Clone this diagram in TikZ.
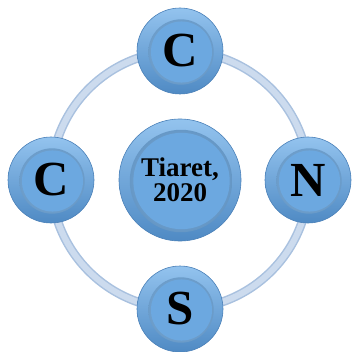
\documentclass[tikz,border=0pt]{standalone}
\usepackage{fontspec}
\setmainfont{Liberation Serif}
\usepackage{tikz}
\usepackage{xcolor}
\usetikzlibrary{positioning,calc}
\definecolor{ringedge}{HTML}{A9C1DF}
\definecolor{ringfill}{HTML}{CCDBEE}
\definecolor{ballrim}{HTML}{4A80B8}
\definecolor{balldark}{HTML}{4F8AC4}
\definecolor{balllight}{HTML}{93C3EE}
\definecolor{ballface}{HTML}{6CA8E0}

\begin{document}
\begin{tikzpicture}[x=1pt, y=-1pt,
    ball/.style 2 args={circle, draw=ballrim, line width=0.6pt, minimum size=#1,
                 inner sep=0pt, top color=balllight, bottom color=balldark,
                 path picture={
                   \shade[inner color=ballface!70!white, outer color=ballface!85!black]
                     ([xshift=1pt,yshift=-1pt]path picture bounding box.center) circle[radius=(#2+0.025)*#1];
                   \fill[ballface]
                     ([xshift=1.5pt,yshift=-1pt]path picture bounding box.center) circle[radius=#2*#1];}},
    letter/.style={font=\fontsize{49}{49}\selectfont\bfseries},
    town/.style={font=\fontsize{27}{25}\selectfont\bfseries, align=center}
]
  \useasboundingbox (0,0) rectangle (351,352);
  % Ring behind the balls
  \coordinate (mid) at (180,180);
  \draw[ringedge, line width=9pt] (mid) circle[radius=129];
  \draw[ringfill, line width=6pt] (mid) circle[radius=129];
  % Centre ball
  \node[ball={122pt}{0.395}, town] (centre) at (mid) {Tiaret,\\2020};
  % Outer balls
  \node[ball={86pt}{0.355}, letter] (top) at (180,51) {C};
  \node[ball={86pt}{0.355}, letter] (left) at (51,180) {C};
  \node[ball={86pt}{0.355}, letter] (right) at (308,180) {N};
  \node[ball={86pt}{0.355}, letter] (bottom) at (180,309) {S};
\end{tikzpicture}
\end{document}
